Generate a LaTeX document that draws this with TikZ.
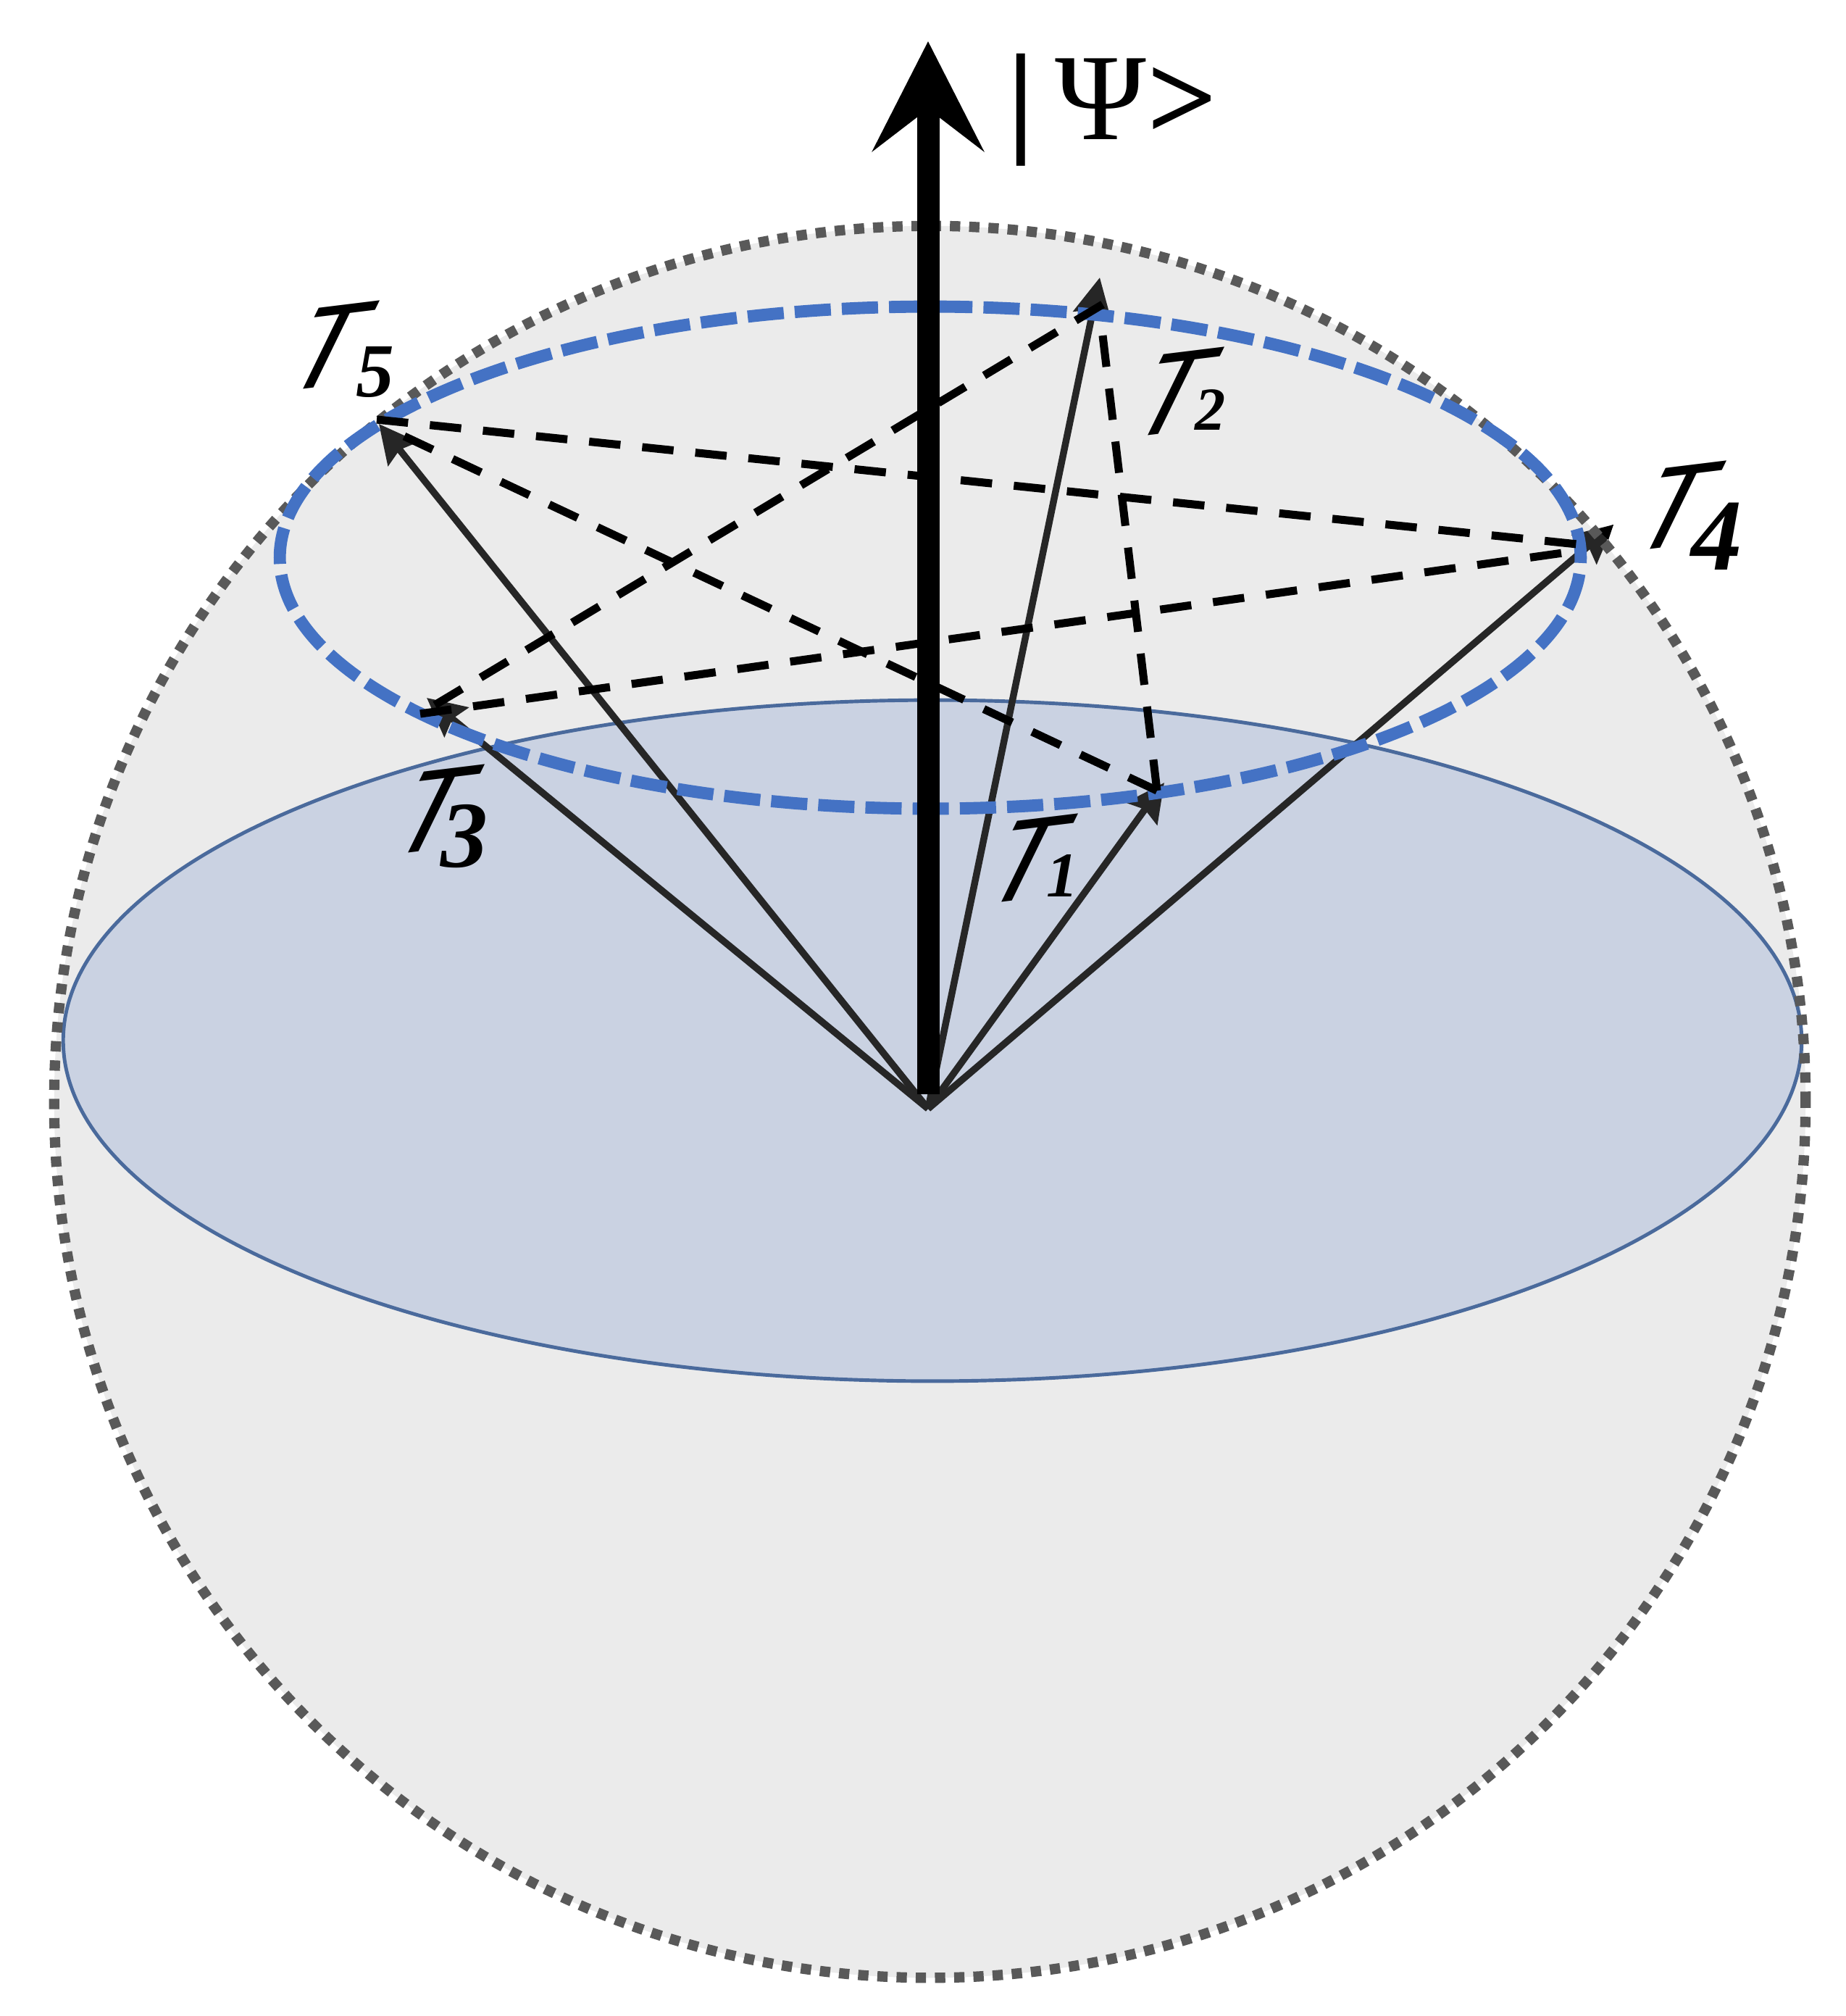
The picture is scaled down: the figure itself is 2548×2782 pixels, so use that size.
\documentclass[tikz,border=0pt]{standalone}
\usepackage{fontspec}
\setmainfont{Liberation Serif}
\newfontfamily\digitfont[ItalicFont={Liberation Serif Bold Italic}]{Liberation Serif}
\newfontfamily\tfont{Lato}
\usetikzlibrary{arrows.meta}
\definecolor{spherefill}{HTML}{EBEBEB}
\definecolor{spheredot}{HTML}{595959}
\definecolor{discfill}{HTML}{CAD2E2}
\definecolor{discline}{HTML}{4A6A9C}
\definecolor{ringblue}{HTML}{4472C4}
\definecolor{vecgrey}{HTML}{262626}
\tikzset{
  x=0.02cm,y=-0.02cm,
  sphere/.style={fill=spherefill},
  spheredots/.style={draw=spheredot,line width=8.1pt,dash pattern=on 8.1pt off 7pt},
  disc/.style={fill=discfill,draw=discline,line width=2.8pt},
  ring/.style={draw=ringblue,line width=9.6pt,dash pattern=on 28.45pt off 8.65pt,dash phase=5.7pt},
  vec/.style={draw=vecgrey,line width=5.4pt,-{Stealth[length=30pt,width=29.6pt,inset=4pt,fill=vecgrey]}},
  hop/.style={draw=black,line width=6.3pt,dash pattern=on 24.75pt off 17.18pt},
  mainarrow/.style={draw=black,line width=17.64pt,-{Stealth[length=86pt,width=87pt,inset=33pt,fill=black]}},
  calT/.style={inner sep=0pt,outer sep=0pt,rotate=7,xslant=0.65,font=\tfont\fontsize{86}{86}\selectfont},
  dig/.style={inner sep=0pt,outer sep=0pt},
}
\newcommand{\digit}[2]{{\digitfont\fontsize{#1}{#1}\selectfont\itshape #2}}
\begin{document}
\begin{tikzpicture}
\useasboundingbox[fill=white] (0,0) rectangle (2548,2782);
\coordinate (C) at (1283.5,1520.5);
\coordinate (O) at (1281,1530);
\coordinate (Obase) at (1281,1510);
\coordinate (Top) at (1281,57);
\coordinate (V1) at (1607,1080);
\coordinate (V2) at (1518,383);
\coordinate (V3) at (589,963);
\coordinate (V4) at (2227,724);
\coordinate (V5) at (523,585);
% sphere and equatorial disc
\fill[sphere] (C) circle [radius=24.18cm];
\filldraw[disc] (1287,1436) ellipse [x radius=24cm,y radius=9.4cm];
% state vectors
\draw[vec] (O) -- (V1);
\draw[vec] (O) -- (V2);
\draw[vec] (O) -- (V3);
\draw[vec] (O) -- (V4);
\draw[vec] (O) -- (V5);
\fill[black] (V4) -- (2205,731) -- (2220,745) -- cycle;
% sphere outline
\draw[spheredots] (C) circle [radius=24.18cm];
% ring of constant latitude
\draw[ring] (1284,769.5) ellipse [x radius=17.96cm,y radius=6.93cm];
% dashed transitions
\coordinate (a1) at (1522,420); \coordinate (a2) at (600,973);
\coordinate (b1) at (1522,463); \coordinate (b2) at (1597,1091);
\coordinate (c1) at (558,602);  \coordinate (c2) at (1597,1091);
\coordinate (d1) at (520,579);  \coordinate (d2) at (2177,751);
\coordinate (e1) at (580,985);  \coordinate (e2) at (2157,763);
\draw[hop] (a1) -- (a2);
\draw[hop] (b1) -- (b2);
\draw[hop] (c1) -- (c2);
\draw[hop] (d1) -- (d2);
\draw[hop] (e1) -- (e2);
% main arrow
\draw[mainarrow] (Obase) -- (Top);
% labels
\node[anchor=base west,inner sep=0pt] (psi) at (1390,192)
  {\fontsize{97}{100}\selectfont\textbf{|}\kern 16pt Ψ\kern 1pt\textbf{>}};
\node[calT] (t1) at (1418,1186) {T};
\node[dig]  (n1) at (1466,1208) {\digit{50}{1}};
\node[calT] (t2) at (1620,542) {T};
\node[dig]  (n2) at (1671,566) {\digit{48}{2}};
\node[calT] (t3) at (599,1118) {T};
\node[dig]  (n3) at (641,1154) {\digit{74}{3}};
\node[calT] (t4) at (2313,699) {T};
\node[dig]  (n4) at (2370,740) {\digit{80}{4}};
\node[calT] (t5) at (454,478) {T};
\node[dig]  (n5) at (518,513) {\digit{60}{5}};
\end{tikzpicture}
\end{document}
